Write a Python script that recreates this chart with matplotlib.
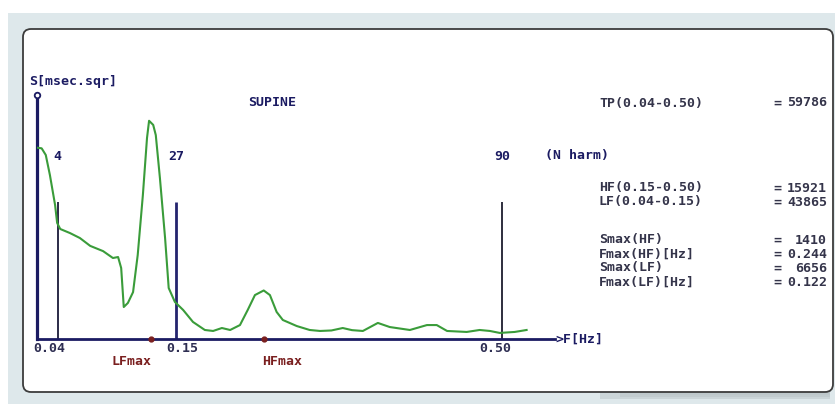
import matplotlib
matplotlib.use('Agg')
import matplotlib.pyplot as plt
from matplotlib.patches import FancyBboxPatch, Rectangle
from matplotlib.transforms import (IdentityTransform, ScaledTranslation,
                                   blended_transform_factory)

# spectrum, x in harmonic number, y in msec^2
harm = [0, 0.9, 1.7, 2.5, 3.5, 3.9, 4.5, 6.4, 8.3, 10.3, 12.8, 14.7, 15.7, 16.3,
        16.8, 17.6, 18.6, 19.5, 20.5, 21.3, 21.7, 22.5, 23.0, 23.8, 24.8, 25.5,
        26.7, 28.3, 30.2, 32.5, 34.1, 35.8, 37.4, 39.3, 40.8, 42.2, 43.9, 45.1,
        46.4, 47.6, 50.3, 52.8, 54.8, 57.0, 59.2, 61.0, 63.1, 66.0, 68.3, 72.2,
        75.5, 77.4, 79.4, 83.2, 85.7, 87.7, 89.6, 92.5, 94.8]
psd = [5835, 5816, 5612, 5000, 4090, 3540, 3355, 3230, 3080, 2840, 2680, 2470,
       2500, 2165, 975, 1100, 1430, 2560, 4390, 6130, 6656, 6530, 6220, 4910,
       3080, 1555, 1130, 885, 520, 275, 245, 335, 275, 425, 885, 1340, 1480,
       1340, 825, 580, 395, 275, 245, 260, 335, 270, 245, 490, 365, 275, 425,
       425, 245, 215, 275, 245, 185, 215, 275]

band_harm = [4, 27, 90]
band_freq = ['0.04', '0.15', '0.50']
band_top = 4180
peak_harm = [22, 44]
peak_names = ['LFmax', 'HFmax']

stat_names = ['TP(0.04-0.50)', 'HF(0.15-0.50)', 'LF(0.04-0.15)', 'Smax(HF)',
              'Fmax(HF)[Hz]', 'Smax(LF)', 'Fmax(LF)[Hz]']
stat_values = ['59786', '15921', '43865', '1410', '0.244', '6656', '0.122']
stat_rows = [103, 188, 202, 240, 254, 268, 282]

NAVY = '#1b1b62'
GREEN = '#3a9c3a'
DRED = '#7a1f1f'
GREY_TXT = '#34344a'
W, H = 835, 404
FONT = dict(family='DejaVu Sans Mono', fontweight='bold', fontsize=9.5)

fig = plt.figure(figsize=(W / 100, H / 100), dpi=100)
fig.patch.set_facecolor('white')

# backdrop + rounded panel (pixel coordinates)
px = IdentityTransform()
fig.patches.append(Rectangle((8, 0), W - 8, H - 13, transform=px,
                             fc='#dee8eb', ec='none', zorder=-3))
for i, a in enumerate([0.35, 0.25, 0.15]):
    fig.patches.append(Rectangle((600 + 20 * i, 5 + 2 * i), 230 - 20 * i, 7,
                                 transform=px, fc='#aab2b6', ec='none',
                                 alpha=a, zorder=-2))
fig.patches.append(FancyBboxPatch((23, 12), 810, 363, transform=px,
                                  boxstyle='round,pad=0,rounding_size=8',
                                  fc='white', ec='#3c3c3c', lw=1.3, zorder=-1))

ax = fig.add_axes([37 / W, 1 - 339 / H, 518 / W, 244 / H])
ax.set_facecolor('none')
ax.set_xlim(0, 100.3)
ax.set_ylim(0, 7442)
for s in ['top', 'right']:
    ax.spines[s].set_visible(False)
ax.spines['left'].set_color(NAVY)
ax.spines['left'].set_linewidth(2.3)
ax.spines['bottom'].set_color(NAVY)
ax.spines['bottom'].set_linewidth(2.0)
ax.set_yticks([])
ax.set_xticks(band_harm, band_freq)
ax.tick_params(axis='x', length=0, pad=2, colors='#2e2e52')
for lab, dx in zip(ax.get_xticklabels(), [-8, 6, -7]):
    lab.set(**FONT)
    lab.set_transform(lab.get_transform()
                      + ScaledTranslation(dx / 100, 0, fig.dpi_scale_trans))

# band markers
ax.vlines(band_harm, 0, band_top, colors=['#2b2b48', '#24246e', '#1e1e2e'],
          linewidths=[1.4, 2.0, 1.3], zorder=2)

ax.plot(harm, psd, color=GREEN, lw=1.5, zorder=3)

ax.plot(0, ax.get_ylim()[1], 'o', mfc='white', mec=NAVY, mew=1.3, ms=4,
        clip_on=False, zorder=5)
ax.plot(peak_harm, [0] * len(peak_harm), 'o', color=DRED, ms=3.5,
        clip_on=False, zorder=5)
for h, name, dx in zip(peak_harm, peak_names, [-14, 13]):
    ax.annotate(name, (h, 0), xytext=(dx, -16), textcoords='offset points',
                ha='center', va='center', color=DRED, **FONT)

tr = blended_transform_factory(ax.transData, ax.transAxes)
for h in band_harm:
    ax.text(h, 0.75, str(h), transform=tr, ha='center', va='center',
            color=NAVY, **FONT)
ax.text(0.981, 0.75, '(N harm)', transform=ax.transAxes, ha='left',
        va='center', color=NAVY, **FONT)
ax.annotate('>F[Hz]', (1, 0), xycoords='axes fraction', xytext=(0, 0),
            textcoords='offset points', ha='left', va='center',
            color=NAVY, annotation_clip=False, **FONT)

fig.text(29 / W, 1 - 81 / H, 'S[msec.sqr]', ha='left', va='center',
         color=NAVY, **FONT)
fig.text(248 / W, 1 - 102 / H, 'SUPINE', ha='left', va='center',
         color=NAVY, **FONT)

for name, val, row in zip(stat_names, stat_values, stat_rows):
    y = 1 - row / H
    fig.text(599 / W, y, name, ha='left', va='center', color=GREY_TXT, **FONT)
    fig.text(773 / W, y, '=', ha='left', va='center', color=GREY_TXT, **FONT)
    fig.text(827 / W, y, val, ha='right', va='center', color=GREY_TXT, **FONT)

fig.savefig('out.png', dpi=100)
